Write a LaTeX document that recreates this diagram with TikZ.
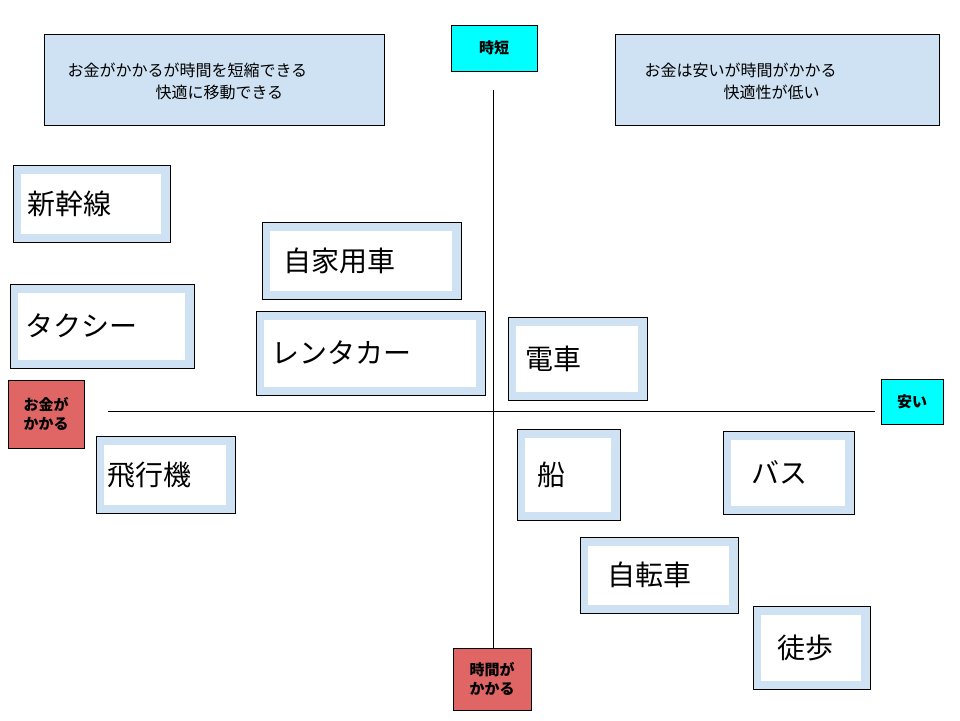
\documentclass[tikz,border=0pt]{standalone}
\usepackage{fontspec}
\setmainfont{Noto Sans CJK JP}
\definecolor{boxfill}{RGB}{207,226,243}
\definecolor{aqua}{RGB}{0,255,255}
\definecolor{redtag}{RGB}{224,102,102}
\begin{document}
\begin{tikzpicture}[x=1pt,y=-1pt,
 outer/.style={draw=black,fill=boxfill,line width=0.8pt},
 lbl/.style={font=\fontsize{28}{32}\selectfont,anchor=west},
 note/.style={font=\fontsize{16}{20}\selectfont,anchor=west},
 tag/.style={draw=black,font=\bfseries\fontsize{15}{19}\selectfont,align=center}]
\useasboundingbox (0,0) rectangle (960,720);
\newcommand{\mybox}[7]{%
 \draw[outer] (#1,#2) rectangle (#3,#4);
 \fill[white] (#1+8,#2+9) rectangle (#3-9,#4-8);
 \node[lbl] (#6) at (#5,{(#2+#4)/2}) {#7};}
\mybox{13}{165}{170}{242}{24}{a}{新幹線}
\mybox{10}{284}{194}{368}{22}{b}{タクシー}
\mybox{262}{222}{461}{299}{280}{c}{自家用車}
\mybox{256}{311}{485}{395}{268}{d}{レンタカー}
\mybox{508}{317}{647}{400}{522}{e}{電車}
\mybox{96}{436}{235}{513}{104}{f}{飛行機}
\mybox{517}{429}{620}{520}{534}{g}{船}
\mybox{723}{431}{854}{514}{748}{h}{バス}
\mybox{580}{537}{738}{613}{604}{i}{自転車}
\mybox{753}{606}{870}{689}{774}{j}{徒歩}
\draw[outer] (44,34) rectangle (384,125);
\node[note] (k1) at (64,70) {お金がかかるが時間を短縮できる};
\node[note] (k2) at (152,92) {快適に移動できる};
\draw[outer] (615,34) rectangle (939,125);
\node[note] (l1) at (641,70) {お金は安いが時間がかかる};
\node[note] (l2) at (720,92) {快適性が低い};
\coordinate (t) at (493,90); \coordinate (bt) at (493,648);
\coordinate (lf) at (108,411); \coordinate (rt) at (875,411);
\draw[line width=0.8pt] (t) -- (bt);
\draw[line width=0.8pt] (lf) -- (rt);
\node[tag,fill=aqua,minimum width=86pt,minimum height=46pt] (m) at (494,48) {時短};
\node[tag,fill=aqua,minimum width=62pt,minimum height=45pt] (n) at (912,402) {安い};
\node[tag,fill=redtag,minimum width=76pt,minimum height=68pt] (o) at (46,414) {お金が\\かかる};
\node[tag,fill=redtag,minimum width=78pt,minimum height=62pt] (p) at (492,679) {時間が\\かかる};
\end{tikzpicture}
\end{document}
